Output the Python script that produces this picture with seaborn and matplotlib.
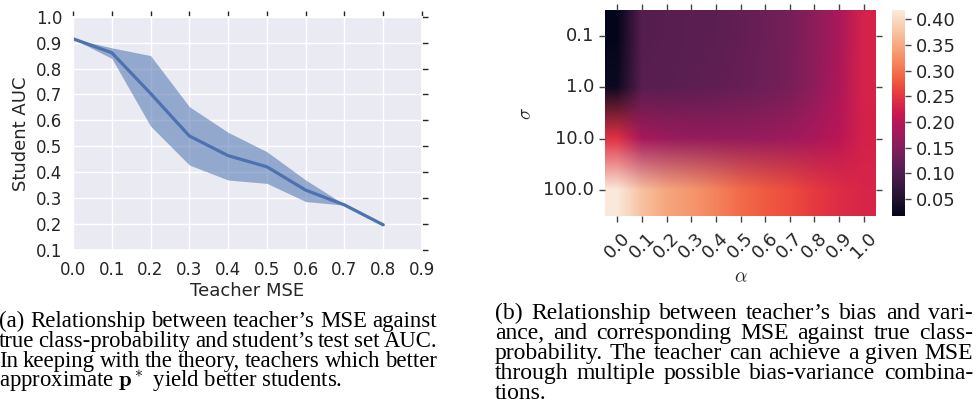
import numpy as np
import pandas as pd
import matplotlib
matplotlib.use("Agg")
import matplotlib.pyplot as plt
from matplotlib.ticker import FormatStrFormatter
import seaborn as sns

# ---------------- data ----------------
teacher_mse = [0.0, 0.1, 0.2, 0.3, 0.4, 0.5, 0.6, 0.7, 0.8]
auc_mean = [0.915, 0.861, 0.704, 0.540, 0.464, 0.421, 0.331, 0.274, 0.197]
auc_low = [0.915, 0.839, 0.578, 0.428, 0.370, 0.357, 0.287, 0.273, 0.197]
auc_high = [0.915, 0.880, 0.850, 0.653, 0.554, 0.479, 0.370, 0.276, 0.197]

alpha_labels = ["0.0", "0.1", "0.2", "0.3", "0.4", "0.5", "0.6", "0.7", "0.8", "0.9", "1.0"]
sigma_labels = ["0.1", "1.0", "10.0", "100.0"]
mse_sigma_0_1 = [0.020, 0.105, 0.108, 0.111, 0.114, 0.120, 0.127, 0.137, 0.158, 0.186, 0.230]
mse_sigma_1 = [0.028, 0.108, 0.110, 0.113, 0.116, 0.122, 0.129, 0.139, 0.160, 0.188, 0.230]
mse_sigma_10 = [0.245, 0.180, 0.172, 0.167, 0.165, 0.166, 0.169, 0.175, 0.185, 0.201, 0.228]
mse_sigma_100 = [0.416, 0.373, 0.346, 0.332, 0.314, 0.293, 0.279, 0.268, 0.252, 0.240, 0.232]
cbar_ticks = [0.05, 0.10, 0.15, 0.20, 0.25, 0.30, 0.35, 0.40]

caption_a = [
    "(a) Relationship between teacher\u2019s MSE against",
    "true class-probability and student\u2019s test set AUC.",
    "In keeping with the theory, teachers which better",
    r"approximate $\mathbf{p}^*$ yield better students.",
]
caption_b = [
    "(b) Relationship between teacher\u2019s bias and vari-",
    "ance, and corresponding MSE against true class-",
    "probability. The teacher can achieve a given MSE",
    "through multiple possible bias-variance combina-",
    "tions.",
]

# ---------------- figure ----------------
W, H = 976, 416
sns.set_theme(style="darkgrid")
plt.rcParams["mathtext.fontset"] = "cm"
fig = plt.figure(figsize=(W / 100, H / 100), dpi=100)

def rect(x0, y0, x1, y1):
    return [x0 / W, 1 - y1 / H, (x1 - x0) / W, (y1 - y0) / H]

# ---- left: line plot ----
with sns.axes_style("darkgrid"):
    ax1 = fig.add_axes(rect(73, 16.7, 422, 250))
df_line = pd.DataFrame({"Teacher MSE": teacher_mse, "Student AUC": auc_mean})
ax1.fill_between(teacher_mse, auc_low, auc_high, color="#4C72B0", alpha=0.55, lw=0)
sns.lineplot(data=df_line, x="Teacher MSE", y="Student AUC", ax=ax1,
             color="#4C72B0", lw=2.3)
ax1.set_xlim(0, 0.9)
ax1.set_ylim(0.1, 1.0)
ax1.set_xticks(np.linspace(0, 0.9, 10))
ax1.set_yticks(np.linspace(0.1, 1.0, 10))
ax1.xaxis.set_major_formatter(FormatStrFormatter("%.1f"))
ax1.yaxis.set_major_formatter(FormatStrFormatter("%.1f"))
ax1.tick_params(direction="out", length=4.3, width=1, color="#262626",
                top=True, right=True, labelsize=12)
ax1.set_xlabel("Teacher MSE", fontsize=13, labelpad=2)
ax1.set_ylabel("Student AUC", fontsize=13, labelpad=4)

# ---- right: heatmap ----
with sns.axes_style("ticks"):
    ax2 = fig.add_axes(rect(605, 10, 876, 216))
    cax = fig.add_axes(rect(892, 10, 905, 216))
data = np.array([mse_sigma_0_1, mse_sigma_1, mse_sigma_10, mse_sigma_100])
df_hm = pd.DataFrame(data, index=sigma_labels, columns=alpha_labels)
sns.heatmap(df_hm, ax=ax2, cbar_ax=cax, cmap="rocket", vmin=0.017, vmax=0.418)
mesh = ax2.collections[0]
mesh.set_visible(False)
ax2.imshow(df_hm.values, cmap=mesh.cmap, norm=mesh.norm, interpolation="bilinear",
           interpolation_stage="rgba", extent=(0, len(alpha_labels), len(sigma_labels), 0),
           aspect="auto")
ax2.set_xlim(0, len(alpha_labels))
ax2.set_ylim(len(sigma_labels), 0)
ax2.tick_params(top=True, right=True, labeltop=False, labelright=False,
                length=4.3, width=1, color="#444444", labelsize=13)
ax2.tick_params(axis="x", pad=5)
plt.setp(ax2.get_xticklabels(), rotation=45, ha="center")
plt.setp(ax2.get_yticklabels(), rotation=0)
ax2.set_xlabel(r"$\alpha$", fontsize=14, labelpad=4)
ax2.set_ylabel(r"$\sigma$", fontsize=14, labelpad=6)
cax.set_yticks(cbar_ticks)
cax.yaxis.set_major_formatter(FormatStrFormatter("%.2f"))
cax.tick_params(labelsize=13, length=4.3, width=1, color="#444444")

# ---- captions (justified) ----
renderer = fig.canvas.get_renderer()
CAP_FAM = "Liberation Serif"

def put_line(text, x0, x1, y, justify, fs):
    yf = 1 - y / H
    if not justify:
        fig.text(x0 / W, yf, text, fontsize=fs, family=CAP_FAM, va="baseline",
                 ha="left", color="black")
        return
    words = text.split(" ")
    objs = [fig.text(0, yf, w, fontsize=fs, family=CAP_FAM, va="baseline",
                     ha="left", color="black") for w in words]
    widths = [o.get_window_extent(renderer).width for o in objs]
    gap = (x1 - x0 - sum(widths)) / max(len(words) - 1, 1)
    x = x0
    for o, w in zip(objs, widths):
        o.set_x(x / W)
        x += w + gap

a_base = [327, 347, 367, 387]
for i, line in enumerate(caption_a):
    put_line(line, -1, 437, a_base[i], justify=(i < len(caption_a) - 1), fs=16.4)
b_base = [319, 339, 359, 379, 399]
for i, line in enumerate(caption_b):
    put_line(line, 495, 973, b_base[i], justify=(i < len(caption_b) - 1), fs=17)

fig.savefig("out.png", dpi=100)
